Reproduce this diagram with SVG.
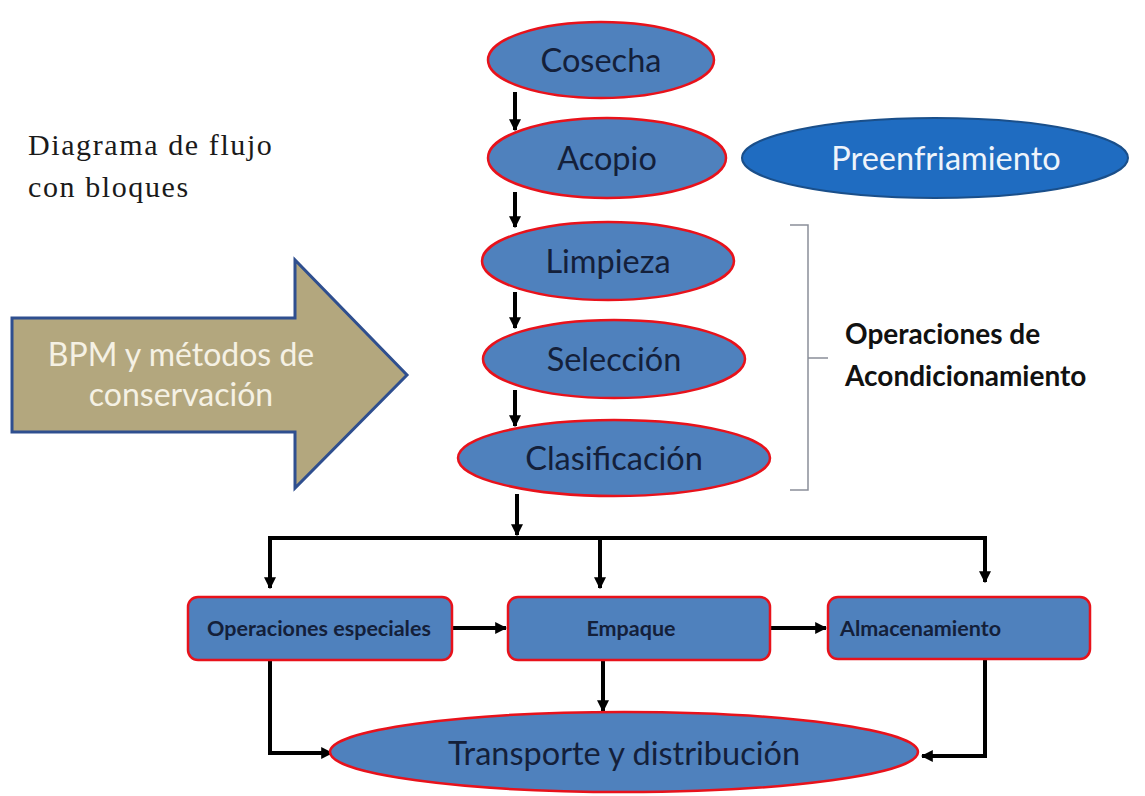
<svg xmlns="http://www.w3.org/2000/svg" width="1145" height="796" viewBox="0 0 1145 796">
<defs>
<style>
.n{fill:#4f81bd;stroke:#e8121b;stroke-width:2.5}
.t{font-family:Lato,"Liberation Sans",sans-serif;fill:#14203a;text-anchor:middle}
.e{font-size:32.5px}
.b{font-size:21.5px;font-weight:bold}
.c{fill:none;stroke:#000;stroke-width:4}
</style>
<marker id="ah" viewBox="0 0 10 10" refX="9" refY="5" markerWidth="3" markerHeight="3" orient="auto" markerUnits="strokeWidth">
<path d="M0,0 L10,5 L0,10 z" fill="#000"/>
</marker>
</defs>
<rect width="1145" height="796" fill="#fff"/>
<g id="title">
<text x="28" y="155" font-family="Liberation Serif,serif" font-size="30" letter-spacing="1.6" fill="#1a1a1a">Diagrama de flujo</text>
<text x="28" y="197" font-family="Liberation Serif,serif" font-size="30" letter-spacing="1.6" fill="#1a1a1a">con bloques</text>
</g>
<g id="bpm">
<path d="M12,318 H295 V260 L407,375 L295,488 V432 H12 Z" fill="#b3a77e" stroke="#2f4f8f" stroke-width="3"/>
<text x="181" y="366" font-family="Lato,'Liberation Sans',sans-serif" font-size="32" fill="#f5f1e4" text-anchor="middle">BPM y métodos de</text>
<text x="181" y="406" font-family="Lato,'Liberation Sans',sans-serif" font-size="32" fill="#f5f1e4" text-anchor="middle">conservación</text>
</g>
<g id="connectors">
<line class="c" x1="515" y1="92" x2="515" y2="130" marker-end="url(#ah)"/>
<line class="c" x1="515" y1="192" x2="515" y2="227" marker-end="url(#ah)"/>
<line class="c" x1="515" y1="292" x2="515" y2="328" marker-end="url(#ah)"/>
<line class="c" x1="515" y1="390" x2="515" y2="426" marker-end="url(#ah)"/>
<line class="c" x1="517" y1="494" x2="517" y2="535" marker-end="url(#ah)"/>
<polyline class="c" points="270,540 270,538 985,538 985,582" marker-end="url(#ah)"/>
<line class="c" x1="270" y1="536" x2="270" y2="588" marker-end="url(#ah)"/>
<line class="c" x1="600" y1="538" x2="600" y2="588" marker-end="url(#ah)"/>
<line class="c" x1="452" y1="628" x2="506" y2="628" marker-end="url(#ah)"/>
<line class="c" x1="770" y1="628" x2="826" y2="628" marker-end="url(#ah)"/>
<polyline class="c" points="270,660 270,753 332,753" marker-end="url(#ah)"/>
<line class="c" x1="603" y1="660" x2="603" y2="711" marker-end="url(#ah)"/>
<polyline class="c" points="985,659 985,756 922,756" marker-end="url(#ah)"/>
</g>
<g id="bracket">
<path d="M790,225 H808 V490 H790 M808,358 H828" fill="none" stroke="#8a8f99" stroke-width="1.5"/>
<text x="845" y="344" font-family="Lato,'Liberation Sans',sans-serif" font-size="28" font-weight="bold" fill="#111">Operaciones de</text>
<text x="845" y="386" font-family="Lato,'Liberation Sans',sans-serif" font-size="28" font-weight="bold" fill="#111">Acondicionamiento</text>
</g>
<g id="cosecha"><ellipse class="n" cx="601" cy="60" rx="113" ry="38"/><text class="t e" x="601" y="72">Cosecha</text></g>
<g id="acopio"><ellipse class="n" cx="607" cy="158" rx="119" ry="40"/><text class="t e" x="607" y="170">Acopio</text></g>
<g id="preenfriamiento"><ellipse cx="935" cy="158" rx="193" ry="40" fill="#1f6cc1" stroke="#1a4f8a" stroke-width="2"/><text class="t e" x="946" y="170" style="fill:#eef4fb">Preenfriamiento</text></g>
<g id="limpieza"><ellipse class="n" cx="608" cy="261" rx="126" ry="39"/><text class="t e" x="608" y="273">Limpieza</text></g>
<g id="seleccion"><ellipse class="n" cx="614" cy="359" rx="131" ry="39"/><text class="t e" x="614" y="371">Selección</text></g>
<g id="clasificacion"><ellipse class="n" cx="614" cy="458" rx="156" ry="38"/><text class="t e" x="614" y="470">Clasificación</text></g>
<g id="operaciones-especiales"><rect class="n" x="188" y="597" width="264" height="63" rx="10"/><text class="t b" x="319" y="636">Operaciones especiales</text></g>
<g id="empaque"><rect class="n" x="508" y="597" width="262" height="63" rx="10"/><text class="t b" x="631" y="636">Empaque</text></g>
<g id="almacenamiento"><rect class="n" x="828" y="597" width="262" height="62" rx="10"/><text class="t b" x="840" y="636" style="text-anchor:start">Almacenamiento</text></g>
<g id="transporte"><ellipse class="n" cx="624" cy="752" rx="294" ry="40"/><text class="t e" x="624" y="765">Transporte y distribución</text></g>
</svg>
